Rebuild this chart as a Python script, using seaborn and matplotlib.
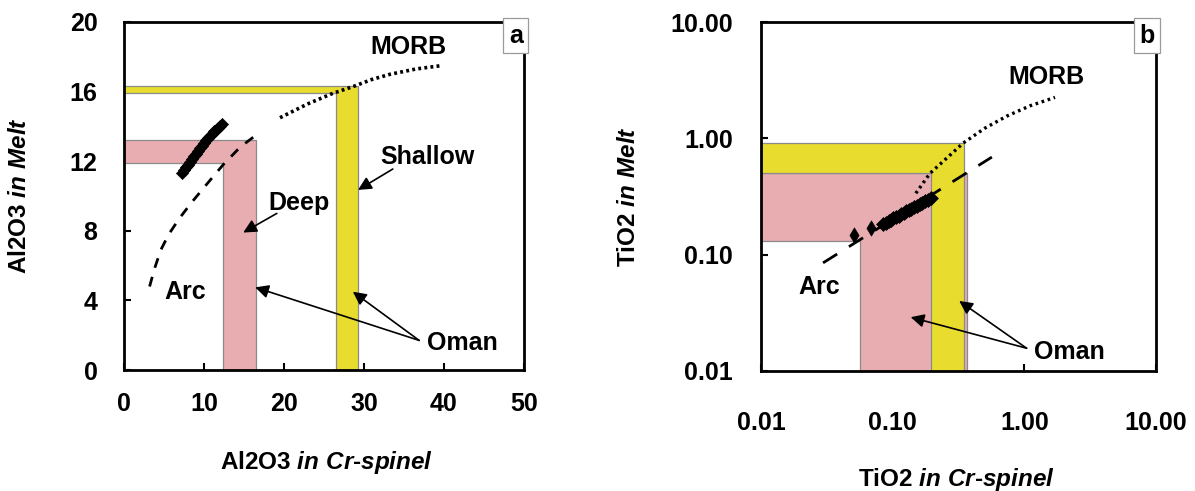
import matplotlib
matplotlib.use("Agg")
import matplotlib.pyplot as plt
import matplotlib.ticker as mticker
import seaborn as sns

# ---- panel a : Al2O3 ----
a_spinel = [7.2, 7.45, 7.7, 7.95, 8.2, 8.45, 8.7, 8.95, 9.2, 9.45, 9.7,
            9.95, 10.2, 10.45, 10.7, 10.95, 11.2, 11.45, 11.7, 11.95, 12.2]
a_melt = [11.33, 11.48, 11.64, 11.80, 11.96, 12.12, 12.28, 12.44, 12.59, 12.75, 12.90,
          13.05, 13.19, 13.33, 13.46, 13.59, 13.71, 13.82, 13.93, 14.03, 14.13]
a_arc_x = [3.2, 3.8, 4.6, 5.6, 6.9, 8.4, 10.2, 12.4, 14.5, 16.5]
a_arc_y = [4.8, 5.8, 6.9, 7.8, 8.7, 9.6, 10.6, 11.8, 12.8, 13.5]
a_morb_x = [19.5, 23.0, 26.1, 28.7, 31.0, 33.3, 36.5, 39.8]
a_morb_y = [14.5, 15.3, 15.9, 16.3, 16.7, 17.0, 17.3, 17.5]
# Oman fields: [inner x, inner y], [outer x, outer y]
a_deep = [[12.4, 11.9], [16.5, 13.2]]
a_shallow = [[26.5, 15.9], [29.3, 16.3]]
a_xticks = [0, 10, 20, 30, 40, 50]
a_yticks = [0, 4, 8, 12, 16, 20]

# ---- panel b : TiO2 ----
b_spinel = [0.085, 0.089, 0.093, 0.097, 0.101, 0.106, 0.111, 0.116, 0.121,
            0.127, 0.133, 0.139, 0.146, 0.153, 0.160, 0.168, 0.176, 0.185, 0.194]
b_melt = [0.184, 0.189, 0.194, 0.200, 0.205, 0.211, 0.217, 0.223, 0.228,
          0.235, 0.242, 0.249, 0.256, 0.264, 0.271, 0.279, 0.287, 0.296, 0.304]
b_spinel_iso = [0.0512, 0.069]
b_melt_iso = [0.148, 0.169]
b_arc_x = [0.0296, 0.567]
b_arc_y = [0.085, 0.69]
b_morb_x = [0.150, 0.192, 0.25, 0.343, 0.5, 0.734, 1.1, 1.71]
b_morb_y = [0.337, 0.50, 0.656, 0.91, 1.22, 1.55, 1.90, 2.25]
b_deep = [[0.056, 0.132], [0.37, 0.507]]
b_shallow = [[0.195, 0.507], [0.35, 0.92]]
b_ticks = [0.01, 0.1, 1, 10]

YELLOW = "#E8DC2E"
PINK = "#E8ADB1"

sns.set_style("white")
plt.rcParams["font.family"] = ["Liberation Sans", "DejaVu Sans"]
plt.rcParams["font.weight"] = "bold"
plt.rcParams["text.color"] = "black"
plt.rcParams["axes.labelcolor"] = "black"
plt.rcParams["xtick.color"] = "black"
plt.rcParams["ytick.color"] = "black"
plt.rcParams["mathtext.fontset"] = "custom"
plt.rcParams["mathtext.it"] = "Liberation Sans:italic:bold"
plt.rcParams["mathtext.rm"] = "Liberation Sans:bold"


def l_field(ax, inner, outer, x0, y0, color):
    # L-shaped field from the axis origin corner
    (xi, yi), (xo, yo) = inner, outer
    xs = [x0, xi, xi, xo, xo, x0]
    ys = [yi, yi, y0, y0, yo, yo]
    ax.fill(xs, ys, facecolor=color, edgecolor="#8a8a8a", lw=0.9, zorder=1)


def arrow(ax, tail, tip):
    ax.annotate("", xy=tip, xytext=tail,
                arrowprops=dict(arrowstyle="-|>", color="k", lw=1.2,
                                mutation_scale=20, shrinkA=0, shrinkB=0), zorder=5)


def style_axis(ax):
    for s in ax.spines.values():
        s.set_linewidth(2)
        s.set_color("black")
        s.set_zorder(6)
    ax.tick_params(direction="in", length=5, width=1.5, labelsize=18, colors="black",
                   top=False, right=False, bottom=True, left=True)
    for lab in ax.get_xticklabels() + ax.get_yticklabels():
        lab.set_fontweight("bold")


def corner_tag(ax, s):
    ax.text(0.997, 0.995, s, transform=ax.transAxes, ha="right", va="top",
            fontsize=18, fontweight="bold", zorder=7,
            bbox=dict(boxstyle="square,pad=0.22", fc="white", ec="#9a9a9a", lw=0.9))


fig = plt.figure(figsize=(11.95, 4.91), dpi=100)
txt = dict(fontsize=18, fontweight="bold", ha="center", va="center", zorder=6, color="black")

# ================= panel a =================
ax = fig.add_axes([124 / 1195, 1 - 370 / 491, 400 / 1195, 348 / 491])
l_field(ax, a_deep[0], a_deep[1], 0, 0, PINK)
l_field(ax, a_shallow[0], a_shallow[1], 0, 0, YELLOW)
sns.lineplot(x=a_arc_x, y=a_arc_y, sort=False, estimator=None, color="k", lw=2,
             linestyle=(0, (3.6, 3.4)), ax=ax, zorder=3)
sns.lineplot(x=a_morb_x, y=a_morb_y, sort=False, estimator=None, color="k", lw=2.6,
             linestyle=(0, (0.8, 0.9)), ax=ax, zorder=3)
sns.scatterplot(x=a_spinel, y=a_melt, marker="D", s=38, color="k", edgecolor="k",
                linewidth=0.5, ax=ax, zorder=4)
ax.set_xlim(0, 50)
ax.set_ylim(0, 20)
ax.set_xticks(a_xticks)
ax.set_yticks(a_yticks)
style_axis(ax)
ax.tick_params(axis="x", pad=16)
ax.tick_params(axis="y", pad=19)
ax.set_xlabel(r"Al2O3 $\mathit{in\ Cr}$-$\mathit{spinel}$", fontsize=17.5, fontweight="bold")
ax.set_ylabel(r"Al2O3 $\mathit{in\ Melt}$", fontsize=17.5, fontweight="bold")
ax.xaxis.set_label_coords(0.5075, -0.228)
ax.yaxis.set_label_coords(-0.232, 0.5)
ax.text(35.5, 18.56, "MORB", **txt)
ax.text(37.9, 12.25, "Shallow", **txt)
ax.text(21.9, 9.6, "Deep", **txt)
ax.text(7.6, 4.5, "Arc", **txt)
ax.text(42.3, 1.55, "Oman", **txt)
arrow(ax, (33.6, 11.55), (29.25, 10.35))
arrow(ax, (19.1, 9.0), (14.9, 7.9))
arrow(ax, (36.9, 1.7), (16.4, 4.75))
arrow(ax, (36.9, 1.7), (28.6, 4.5))
corner_tag(ax, "a")

# ================= panel b =================
bx = fig.add_axes([761 / 1195, 1 - 371 / 491, 395 / 1195, 349 / 491])
bx.set_xscale("log")
bx.set_yscale("log")
l_field(bx, b_deep[0], b_deep[1], 0.01, 0.01, PINK)
l_field(bx, b_shallow[0], b_shallow[1], 0.01, 0.01, YELLOW)
sns.lineplot(x=b_arc_x, y=b_arc_y, sort=False, estimator=None, color="k", lw=2,
             linestyle=(0, (6, 5)), ax=bx, zorder=3)
sns.lineplot(x=b_morb_x, y=b_morb_y, sort=False, estimator=None, color="k", lw=2.4,
             linestyle=(0, (0.8, 1.1)), ax=bx, zorder=3)
sns.scatterplot(x=b_spinel, y=b_melt, marker="D", s=50, color="k", edgecolor="k",
                linewidth=0.5, ax=bx, zorder=4)
sns.scatterplot(x=b_spinel_iso, y=b_melt_iso, marker="d", s=60, color="k", edgecolor="k",
                linewidth=0.5, ax=bx, zorder=4)
bx.set_xlim(0.01, 10)
bx.set_ylim(0.01, 10)
bx.set_xticks(b_ticks)
bx.set_yticks(b_ticks)
bx.xaxis.set_minor_locator(mticker.NullLocator())
bx.yaxis.set_minor_locator(mticker.NullLocator())
fmt = mticker.FormatStrFormatter("%.2f")
bx.xaxis.set_major_formatter(fmt)
bx.yaxis.set_major_formatter(fmt)
style_axis(bx)
bx.tick_params(axis="x", pad=29)
bx.tick_params(axis="y", pad=20)
bx.set_xlabel(r"TiO2 $\mathit{in\ Cr}$-$\mathit{spinel}$", fontsize=17.5, fontweight="bold")
bx.set_ylabel(r"TiO2 $\mathit{in\ Melt}$", fontsize=17.5, fontweight="bold")
bx.xaxis.set_label_coords(0.496, -0.272)
bx.yaxis.set_label_coords(-0.306, 0.5)
bx.text(1.47, 3.39, "MORB", **txt)
bx.text(0.0277, 0.053, "Arc", **txt)
bx.text(2.18, 0.01466, "Oman", **txt)
arrow(bx, (1.04, 0.0157), (0.137, 0.029))
arrow(bx, (1.04, 0.0157), (0.32, 0.040))
corner_tag(bx, "b")

fig.savefig("out.png", dpi=100)
